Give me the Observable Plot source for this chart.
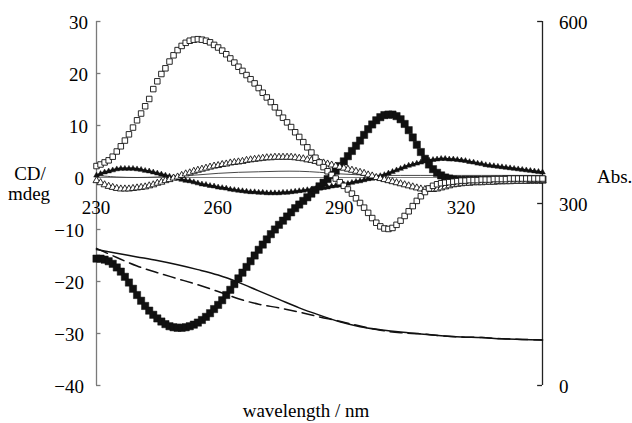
<!DOCTYPE html>
<html>
<head>
<meta charset="utf-8">
<script src="https://cdn.jsdelivr.net/npm/d3@7"></script>
<script src="https://cdn.jsdelivr.net/npm/@observablehq/plot@0.6"></script>
</head>
<body style="margin:0;background:white">
<div id="chart" style="position:relative;width:632px;height:423px"></div>
<script>
// ---- data ----
const wavelength = d3.range(230, 341); // nm, 1 nm step (marker series)
const wavelength5 = d3.range(230, 341, 5); // nm, 5 nm step (line series)

// CD (mdeg), filled squares
const cdFilledSquares = [
  -15.6,-15.6,-15.8,-16.1,-16.6,-17.3,-18.1,-19.1,-20.2,-21.4,
  -22.6,-23.7,-24.7,-25.6,-26.4,-27.1,-27.7,-28.2,-28.6,-28.8,
  -28.9,-28.9,-28.8,-28.6,-28.3,-27.9,-27.4,-26.8,-26.1,-25.3,
  -24.5,-23.6,-22.6,-21.6,-20.5,-19.4,-18.3,-17.2,-16.1,-15.0,
  -13.9,-12.9,-11.9,-10.9,-10.0,-9.1,-8.3,-7.5,-6.7,-5.9,
  -5.2,-4.5,-3.8,-3.1,-2.4,-1.7,-1.0,-0.3,0.5,1.3,
  2.2,3.1,4.1,5.1,6.1,7.1,8.2,9.3,10.2,11.0,
  11.6,12.0,12.1,12.1,11.8,11.2,10.3,9.1,7.7,6.3,
  4.9,3.6,2.5,1.6,0.9,0.4,0.0,-0.2,-0.4,-0.5,
  -0.5,-0.5,-0.5,-0.5,-0.5,-0.5,-0.5,-0.5,-0.5,-0.5,
  -0.5,-0.4,-0.4,-0.4,-0.4,-0.4,-0.4,-0.4,-0.4,-0.4,-0.4
];
// CD (mdeg), open squares
const cdOpenSquares = [
  2.2,2.5,2.9,3.3,4.0,5.0,6.0,7.1,8.3,9.6,
  11.0,12.3,13.7,15.1,17.0,18.5,19.9,21.0,22.3,23.5,
  24.5,25.3,25.9,26.3,26.5,26.6,26.5,26.3,26.0,25.5,
  25.0,24.4,23.7,22.9,22.1,21.3,20.5,19.7,18.9,18.1,
  17.2,16.3,15.4,14.5,13.5,12.4,11.5,10.6,9.7,8.7,
  7.8,6.8,5.8,4.8,3.8,2.9,2.0,1.2,0.5,-0.2,
  -0.9,-1.6,-2.3,-3.1,-4.0,-4.9,-5.8,-6.8,-7.8,-8.7,
  -9.4,-9.8,-9.9,-9.7,-9.1,-8.3,-7.4,-6.5,-5.5,-4.5,
  -3.6,-2.8,-2.1,-1.6,-1.3,-1.1,-1.0,-0.9,-0.8,-0.7,
  -0.6,-0.6,-0.5,-0.5,-0.5,-0.4,-0.4,-0.4,-0.3,-0.3,
  -0.3,-0.3,-0.2,-0.2,-0.2,-0.2,-0.2,-0.2,-0.2,-0.2,-0.2
];
// CD (mdeg), open triangles
const cdOpenTriangles = [
  -0.6,-1.0,-1.4,-1.7,-1.9,-2.1,-2.2,-2.2,-2.2,-2.1,
  -2.0,-1.9,-1.8,-1.6,-1.4,-1.1,-0.9,-0.6,-0.4,-0.1,
  0.1,0.4,0.7,0.9,1.2,1.4,1.6,1.8,2.0,2.2,
  2.3,2.5,2.6,2.8,2.9,3.0,3.1,3.3,3.4,3.5,
  3.6,3.7,3.8,3.8,3.9,3.9,3.9,3.9,3.9,3.8,
  3.7,3.6,3.4,3.3,3.1,2.9,2.8,2.6,2.4,2.2,
  2.0,1.8,1.6,1.4,1.2,1.0,0.8,0.5,0.3,0.0,
  -0.2,-0.4,-0.6,-0.8,-1.0,-1.2,-1.4,-1.6,-1.8,-2.0,
  -2.2,-2.3,-2.3,-2.3,-2.2,-2.0,-1.8,-1.6,-1.4,-1.3,
  -1.2,-1.1,-1.1,-1.0,-1.0,-1.0,-0.9,-0.9,-0.9,-0.8,
  -0.8,-0.8,-0.8,-0.7,-0.7,-0.7,-0.7,-0.6,-0.6,-0.6,-0.6
];
// CD (mdeg), filled triangles
const cdFilledTriangles = [
  0.4,0.7,1.0,1.2,1.4,1.6,1.7,1.7,1.7,1.7,
  1.6,1.5,1.3,1.2,1.0,0.8,0.6,0.4,0.2,0.0,
  -0.2,-0.4,-0.6,-0.7,-0.9,-1.1,-1.3,-1.4,-1.6,-1.7,
  -1.9,-2.0,-2.1,-2.3,-2.4,-2.5,-2.6,-2.7,-2.8,-2.8,
  -2.9,-2.9,-3.0,-3.0,-3.0,-3.0,-2.9,-2.9,-2.8,-2.7,
  -2.6,-2.5,-2.4,-2.3,-2.2,-2.1,-2.0,-1.9,-1.7,-1.6,
  -1.5,-1.3,-1.2,-1.0,-0.8,-0.7,-0.5,-0.3,-0.2,0.0,
  0.3,0.5,0.8,1.1,1.4,1.7,2.0,2.3,2.5,2.7,
  2.9,3.1,3.3,3.4,3.5,3.6,3.6,3.5,3.5,3.4,
  3.3,3.2,3.0,2.9,2.7,2.6,2.4,2.3,2.2,2.1,
  2.0,1.9,1.8,1.7,1.6,1.5,1.4,1.3,1.2,1.1,1.0
];
// CD (mdeg), thin line (5 nm step)
const cdThinLine = [0.4,0.1,0.0,0.1,0.3,0.5,0.8,1.0,1.1,1.2,1.2,1.0,0.7,0.5,0.4,0.4,0.4,0.4,0.4,0.4,0.4,0.4,0.4];
// Absorbance (right axis), 5 nm step
const absSolid  = [224,218,212,206,199,191,182,170,156,142,128,116,105,97,92,88,85,82,80,79,77,76,75];
const absDashed = [226,211,197,186,176,166,155,143,134,128,121,113,106,98,91,87,85,82,80,79,77,76,75];

// axes / ticks / labels
const cdTicks = [-40, -30, -20, -10, 0, 10, 20, 30];
const absTicks = [0, 300, 600];
const xTickLabels = [230, 260, 290, 320];
const cdDomain = [-40, 30];
const absDomain = [0, 600];
const xDomain = [230, 340];
const yTitleLines = ["CD/", "mdeg"];
const y2Title = "Abs.";
const xTitle = "wavelength / nm";

// map absorbance onto CD coordinate (secondary axis)
const absToCD = a => cdDomain[0] + (a - absDomain[0]) / (absDomain[1] - absDomain[0]) * (cdDomain[1] - cdDomain[0]);

const mk = (xs, ys) => xs.map((x, i) => ({x, y: ys[i]}));
const fsData = mk(wavelength, cdFilledSquares);
const osData = mk(wavelength, cdOpenSquares);
const otData = mk(wavelength, cdOpenTriangles);
const ftData = mk(wavelength, cdFilledTriangles);
const thinData = mk(wavelength5, cdThinLine);
const solidData = mk(wavelength5, absSolid.map(absToCD));
const dashedData = mk(wavelength5, absDashed.map(absToCD));

const fmt = d => d < 0 ? "\u2212" + Math.abs(d) : String(d);
const FS = 19;
const SERIF = "Liberation Serif";

const chart = Plot.plot({
  width: 632,
  height: 423,
  marginLeft: 96,
  marginRight: 90,
  marginTop: 21,
  marginBottom: 38,
  x: {domain: xDomain, axis: null},
  y: {domain: cdDomain, axis: null},
  style: {background: "white", overflow: "visible"},
  marks: [
    Plot.ruleY([0], {x1: xDomain[0], x2: xDomain[1], stroke: "#808080", strokeWidth: 1}),
    Plot.ruleX([xDomain[0]], {y1: cdDomain[0], y2: cdDomain[1], stroke: "#7a7a7a", strokeWidth: 1.3}),
    Plot.ruleX([xDomain[1]], {y1: cdDomain[0], y2: cdDomain[1], stroke: "#222", strokeWidth: 1.3}),
    Plot.ruleY(cdTicks, {y: d => d, x1: xDomain[0], x2: xDomain[0] + 1.1, stroke: "#7a7a7a", strokeWidth: 1.3}),
    Plot.ruleY(absTicks, {y: d => absToCD(d), x1: xDomain[1] - 1.2, x2: xDomain[1], stroke: "#222", strokeWidth: 1.3}),
    Plot.line(solidData, {x: "x", y: "y", stroke: "#111", strokeWidth: 1.5, curve: "catmull-rom"}),
    Plot.line(dashedData, {x: "x", y: "y", stroke: "#111", strokeWidth: 1.5, strokeDasharray: "12,6", curve: "catmull-rom"}),
    Plot.line(thinData, {x: "x", y: "y", stroke: "#333", strokeWidth: 0.9, curve: "catmull-rom"}),
    Plot.dot(fsData, {x: "x", y: "y", symbol: "square", r: 4.1, fill: "#111", stroke: "#111", strokeWidth: 0.5}),
    Plot.line(ftData, {x: "x", y: "y", stroke: "#111", strokeWidth: 2.2}),
    Plot.dot(ftData, {x: "x", y: "y", symbol: "triangle", r: 2.1, fill: "#111", stroke: "#111", strokeWidth: 0.5}),
    Plot.dot(otData, {x: "x", y: "y", symbol: "triangle", r: 2.6, fill: "white", stroke: "#111", strokeWidth: 0.9}),
    Plot.dot(osData, {x: "x", y: "y", symbol: "square", r: 3.1, fill: "white", stroke: "#111", strokeWidth: 0.9})
  ]
});
chart.style.position = "absolute";
chart.style.left = "0px";
chart.style.top = "0px";
const host = document.getElementById("chart");
host.appendChild(chart);

// ---- serif text layer, positioned with the plot's own scales ----
const sxD = chart.scale("x"), syD = chart.scale("y");
const sx = sxD.apply ? v => sxD.apply(v) : d3.scaleLinear(sxD.domain, sxD.range);
const sy = syD.apply ? v => syD.apply(v) : d3.scaleLinear(syD.domain, syD.range);

const overlay = d3.create("svg").attr("width", 632).attr("height", 423);
overlay.node().setAttribute("style", "position:absolute;left:0;top:0");
const BASE = 6.3; // baseline offset from the text's vertical centre
const addText = (x, yc, s, anchor) =>
  overlay.append("text").attr("x", x).attr("y", yc + BASE).attr("text-anchor", anchor)
    .attr("font-family", SERIF).attr("font-size", FS).text(s);

cdTicks.forEach(d => addText(sx(xDomain[0]) - (d > 0 ? 8 : 12), sy(d) + 1.5, fmt(d), "end"));
absTicks.forEach(d => addText(sx(xDomain[1]) + 17, sy(absToCD(d)) + 1.5, String(d), "start"));
xTickLabels.forEach(d => addText(sx(d), sy(0) + 31, String(d), "middle"));
addText(sx(xDomain[0]) - 66, sy(0) - 3, yTitleLines[0], "middle");
addText(sx(xDomain[0]) - 67, sy(0) + 17, yTitleLines[1], "middle");
addText(sx(xDomain[1]) + 55, sy(0), y2Title, "start");
addText((sx(xDomain[0]) + sx(xDomain[1])) / 2 - 13, sy(cdDomain[0]) + 26, xTitle, "middle");

host.appendChild(overlay.node());
</script>
</body>
</html>
